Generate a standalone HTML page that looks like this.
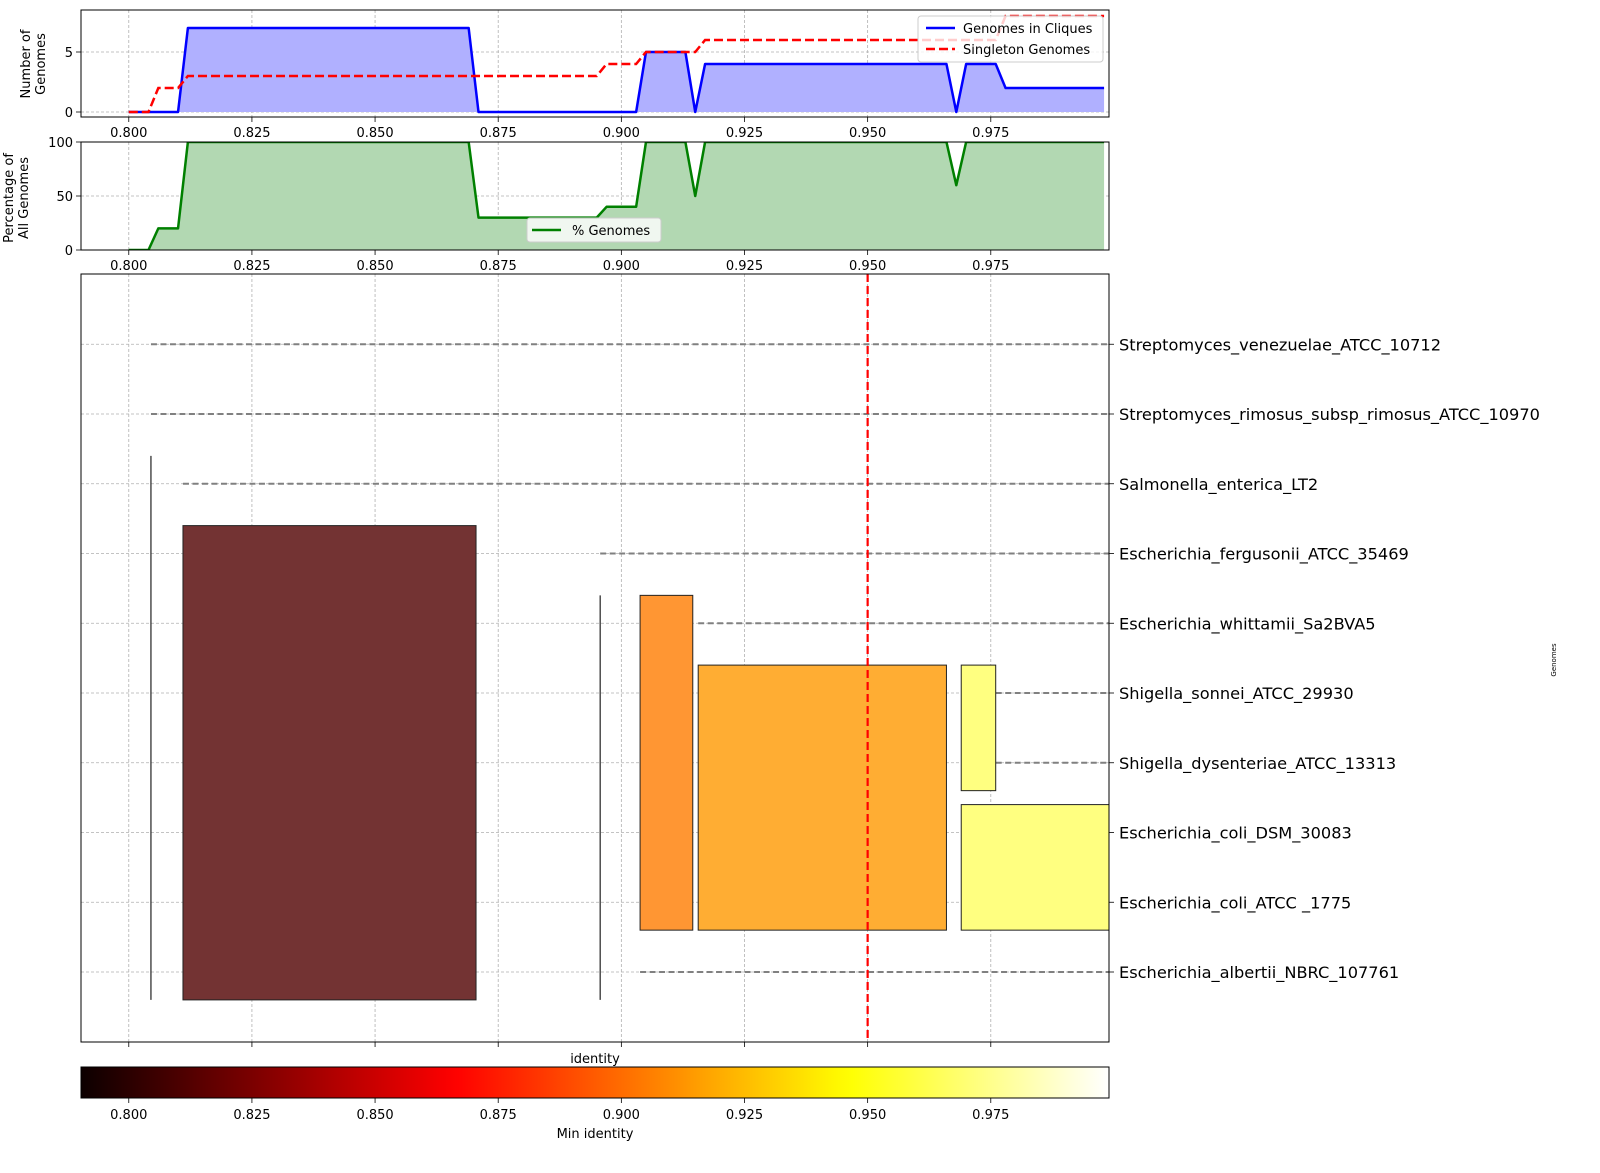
<!DOCTYPE html>
<html><head><meta charset="utf-8"><style>
html,body{margin:0;padding:0;background:#fff;}
svg{display:block;font-family:"DejaVu Sans","Liberation Sans",sans-serif;}
</style></head><body>
<svg id="chart" width="1600" height="1173" viewBox="0 0 1600 1173" xmlns="http://www.w3.org/2000/svg"></svg>
<script>
// ---- data ----
const cliqueX = [0.800,0.810,0.812,0.869,0.871,0.903,0.905,0.913,0.915,0.917,0.966,0.968,0.970,0.976,0.978,0.998];
const cliqueY = [0,0,7,7,0,0,5,5,0,4,4,0,4,4,2,2];
const singleX = [0.800,0.804,0.806,0.810,0.812,0.895,0.897,0.903,0.905,0.915,0.917,0.976,0.978,0.998];
const singleY = [0,0,2,2,3,3,4,4,5,5,6,6,8,8];
const pctX = [0.800,0.804,0.806,0.810,0.812,0.869,0.871,0.895,0.897,0.903,0.905,0.913,0.915,0.917,0.966,0.968,0.970,0.998];
const pctY = [0,0,20,20,100,100,30,30,40,40,100,100,50,100,100,60,100,100];
const xTicks = [0.800,0.825,0.850,0.875,0.900,0.925,0.950,0.975];
const xTickLabels = ["0.800","0.825","0.850","0.875","0.900","0.925","0.950","0.975"];
const topYTicks = [0,5];
const pctYTicks = [0,50,100];
const genomes = ["Escherichia_albertii_NBRC_107761","Escherichia_coli_ATCC _1775","Escherichia_coli_DSM_30083","Shigella_dysenteriae_ATCC_13313","Shigella_sonnei_ATCC_29930","Escherichia_whittamii_Sa2BVA5","Escherichia_fergusonii_ATCC_35469","Salmonella_enterica_LT2","Streptomyces_rimosus_subsp_rimosus_ATCC_10970","Streptomyces_venezuelae_ATCC_10712"];
const genomeStart = [0.9038,0.969,0.969,0.976,0.976,0.9156,0.8957,0.811,0.8045,0.8045];
const cliqueStart = [0.811,0.9038,0.9156,0.969,0.969];
const cliqueEnd = [0.8705,0.9145,0.966,0.976,1.0];
const cliqueRowLo = [0,1,1,3,1];
const cliqueRowHi = [6,5,4,4,2];
const cliqueMinId = [0.8115,0.905,0.914,0.966,0.966];
const mergeX = [0.8045,0.8957];
const mergeRowLo = [0,0];
const mergeRowHi = [7,5];
const threshold = 0.95;
const cbTicks = [0.800,0.825,0.850,0.875,0.900,0.925,0.950,0.975];

// ---- scales ----
const X0=81, X1=1109, XMIN=0.7903, XMAX=0.999;
const vmin=0.79, vmax=0.999;
function sx(v){return X0+(v-XMIN)/(XMAX-XMIN)*(X1-X0);}
function sy1(v){return 112-(v)*12;}
function sy2(v){return 250-v*1.08;}
function sy3(r){return 972-r*69.75;}
function hot(v){
  let t=(v-vmin)/(vmax-vmin); t=Math.max(0,Math.min(1,t));
  const r=Math.min(1,0.0416+t/0.365079*(1-0.0416));
  const g=Math.max(0,Math.min(1,(t-0.365079)/(0.746032-0.365079)));
  const b=Math.max(0,Math.min(1,(t-0.746032)/(1-0.746032)));
  return [r,g,b];
}
function rgb(c,a){return `rgb(${Math.round((c[0]*a+(1-a))*255)},${Math.round((c[1]*a+(1-a))*255)},${Math.round((c[2]*a+(1-a))*255)})`;}
const NS="http://www.w3.org/2000/svg";
const svg=document.getElementById('chart');
function el(tag,attrs,parent){const e=document.createElementNS(NS,tag);for(const k in attrs)e.setAttribute(k,attrs[k]);(parent||svg).appendChild(e);return e;}
function txt(s,attrs,parent){const e=el('text',attrs,parent);e.textContent=s;return e;}

const defs=el('defs',{});
[["c1",10,107],["c2",142,108],["c3",274,768]].forEach(([id,y,h])=>{const cp=el('clipPath',{id:id},defs);el('rect',{x:X0,y:y,width:X1-X0,height:h},cp);});
const grad=el('linearGradient',{id:'hotgrad',x1:'0',x2:'1',y1:'0',y2:'0'},defs);
for(let i=0;i<=60;i++){const v=XMIN+(XMAX-XMIN)*i/60;el('stop',{offset:(i/60).toFixed(4),'stop-color':rgb(hot(v),1)},grad);}

function gridV(y0,y1){xTicks.forEach(v=>{const g=el('line',{x1:sx(v),x2:sx(v),y1:y0,y2:y1,stroke:'#b0b0b0','stroke-width':0.8,'stroke-dasharray':'3,2'});});}
function xAxisTicks(yb,labels){xTicks.forEach((v,i)=>{el('line',{x1:sx(v),x2:sx(v),y1:yb,y2:yb+5,stroke:'#000','stroke-width':0.8});if(labels){const t=txt(xTickLabels[i],{x:sx(v),y:yb+20,'font-size':13,'text-anchor':'middle'});}});}
function pathFrom(xs,ys,fy){return xs.map((x,i)=>(i?'L':'M')+sx(x).toFixed(2)+','+fy(ys[i]).toFixed(2)).join(' ');}

// ---- Panel 1 ----
gridV(10,117);
topYTicks.forEach(v=>{el('line',{x1:X0,x2:X1,y1:sy1(v),y2:sy1(v),stroke:'#b0b0b0','stroke-width':0.8,'stroke-dasharray':'3,2'});el('line',{x1:X0-5,x2:X0,y1:sy1(v),y2:sy1(v),stroke:'#000','stroke-width':0.8});const t=txt(String(v),{x:X0-8,y:sy1(v)+5,'font-size':13,'text-anchor':'end'});});
const g1=el('g',{'clip-path':'url(#c1)'});
const cf=el('path',{d:pathFrom(cliqueX,cliqueY,sy1)+` L${sx(cliqueX[cliqueX.length-1])},${sy1(0)} L${sx(cliqueX[0])},${sy1(0)} Z`,fill:'#b0b0ff',stroke:'none'},g1);

const cl=el('path',{d:pathFrom(cliqueX,cliqueY,sy1),fill:'none',stroke:'#0000ff','stroke-width':2.5,'stroke-linejoin':'round'},g1);

const sl=el('path',{d:pathFrom(singleX,singleY,sy1),fill:'none',stroke:'#ff0000','stroke-width':2.5,'stroke-dasharray':'9,4'},g1);

el('rect',{x:X0,y:10,width:X1-X0,height:107,fill:'none',stroke:'#000','stroke-width':1});
xAxisTicks(117,true);
const yl1=txt('',{transform:'translate(37,64) rotate(-90)','font-size':13,'text-anchor':'middle'});

el('tspan',{x:0,dy:-7},yl1).textContent='Number of';el('tspan',{x:0,dy:15},yl1).textContent='Genomes';
const lg=el('g',{});
el('rect',{x:918,y:16,width:185,height:46,rx:3,fill:'#fff','fill-opacity':0.8,stroke:'#ccc'},lg);
el('line',{x1:926,x2:955,y1:28,y2:28,stroke:'#0000ff','stroke-width':2.5},lg);
const le1=txt('Genomes in Cliques',{x:963,y:33,'font-size':13},lg);
el('line',{x1:926,x2:955,y1:49,y2:49,stroke:'#ff0000','stroke-width':2.5,'stroke-dasharray':'9,4'},lg);
const le2=txt('Singleton Genomes',{x:963,y:54,'font-size':13},lg);

// ---- Panel 2 ----
gridV(142,250);
pctYTicks.forEach(v=>{el('line',{x1:X0,x2:X1,y1:sy2(v),y2:sy2(v),stroke:'#b0b0b0','stroke-width':0.8,'stroke-dasharray':'3,2'});el('line',{x1:X0-5,x2:X0,y1:sy2(v),y2:sy2(v),stroke:'#000','stroke-width':0.8});const t=txt(String(v),{x:X0-8,y:sy2(v)+5,'font-size':13,'text-anchor':'end'});});
const g2=el('g',{'clip-path':'url(#c2)'});
const pf=el('path',{d:pathFrom(pctX,pctY,sy2)+` L${sx(pctX[pctX.length-1])},${sy2(0)} L${sx(pctX[0])},${sy2(0)} Z`,fill:'#b2d8b2',stroke:'none'},g2);

const pl=el('path',{d:pathFrom(pctX,pctY,sy2),fill:'none',stroke:'#008000','stroke-width':2.5,'stroke-linejoin':'round'},g2);

el('rect',{x:X0,y:142,width:X1-X0,height:108,fill:'none',stroke:'#000','stroke-width':1});
xAxisTicks(250,true);
const yl2=txt('',{transform:'translate(20,198) rotate(-90)','font-size':13,'text-anchor':'middle'});

el('tspan',{x:0,dy:-7},yl2).textContent='Percentage of';el('tspan',{x:0,dy:15},yl2).textContent='All Genomes';
const lg2=el('g',{});
el('rect',{x:527,y:218,width:134,height:24,rx:3,fill:'#fff','fill-opacity':0.8,stroke:'#ccc'},lg2);
el('line',{x1:532,x2:561,y1:230,y2:230,stroke:'#008000','stroke-width':2.5},lg2);
const le3=txt('% Genomes',{x:572,y:235,'font-size':13},lg2);

// ---- Main panel ----
gridV(274,1042);
genomes.forEach((g,i)=>{el('line',{x1:X0,x2:X1,y1:sy3(i),y2:sy3(i),stroke:'#b0b0b0','stroke-width':0.8,'stroke-dasharray':'3,2'});});
const g3=el('g',{'clip-path':'url(#c3)'});
genomes.forEach((g,i)=>{const l=el('line',{x1:sx(genomeStart[i]),x2:X1,y1:sy3(i),y2:sy3(i),stroke:'#808080','stroke-width':2,'stroke-dasharray':'6,3.5'},g3);});
cliqueStart.forEach((s,i)=>{
  const r=el('rect',{x:sx(s),y:sy3(cliqueRowHi[i]+0.4),width:sx(cliqueEnd[i])-sx(s),height:sy3(cliqueRowLo[i]-0.4)-sy3(cliqueRowHi[i]+0.4),fill:rgb(hot(cliqueMinId[i]),0.8),stroke:'#222','stroke-width':1},g3);
  
  
});
mergeX.forEach((m,i)=>{const l=el('line',{x1:sx(m),x2:sx(m),y1:sy3(mergeRowHi[i]+0.4),y2:sy3(mergeRowLo[i]-0.4),stroke:'#222','stroke-width':1.2},g3);});
const th=el('line',{x1:sx(threshold),x2:sx(threshold),y1:274,y2:1042,stroke:'#ff0000','stroke-width':2.2,'stroke-dasharray':'8,4'},g3);

el('rect',{x:X0,y:274,width:X1-X0,height:768,fill:'none',stroke:'#000','stroke-width':1});
xAxisTicks(1042,false);
genomes.forEach((g,i)=>{el('line',{x1:X1,x2:X1+5,y1:sy3(i),y2:sy3(i),stroke:'#000','stroke-width':0.8});const t=txt(g,{x:1119,y:sy3(i)+6,'font-size':16.2});});
const xt=txt('identity',{x:595,y:1063,'font-size':13,'text-anchor':'middle'});
const gt=txt('Genomes',{transform:'translate(1556,660) rotate(-90)','font-size':7,'text-anchor':'middle'});

// ---- Colorbar ----
const cb=el('rect',{x:X0,y:1067,width:X1-X0,height:31,fill:'url(#hotgrad)',stroke:'#000','stroke-width':1});

cbTicks.forEach((v,i)=>{el('line',{x1:sx(v),x2:sx(v),y1:1098,y2:1103,stroke:'#000','stroke-width':0.8});const t=txt(xTickLabels[i],{x:sx(v),y:1119,'font-size':13,'text-anchor':'middle'});});
const ct=txt('Min identity',{x:595,y:1138,'font-size':13,'text-anchor':'middle'});
</script>
</body></html>
